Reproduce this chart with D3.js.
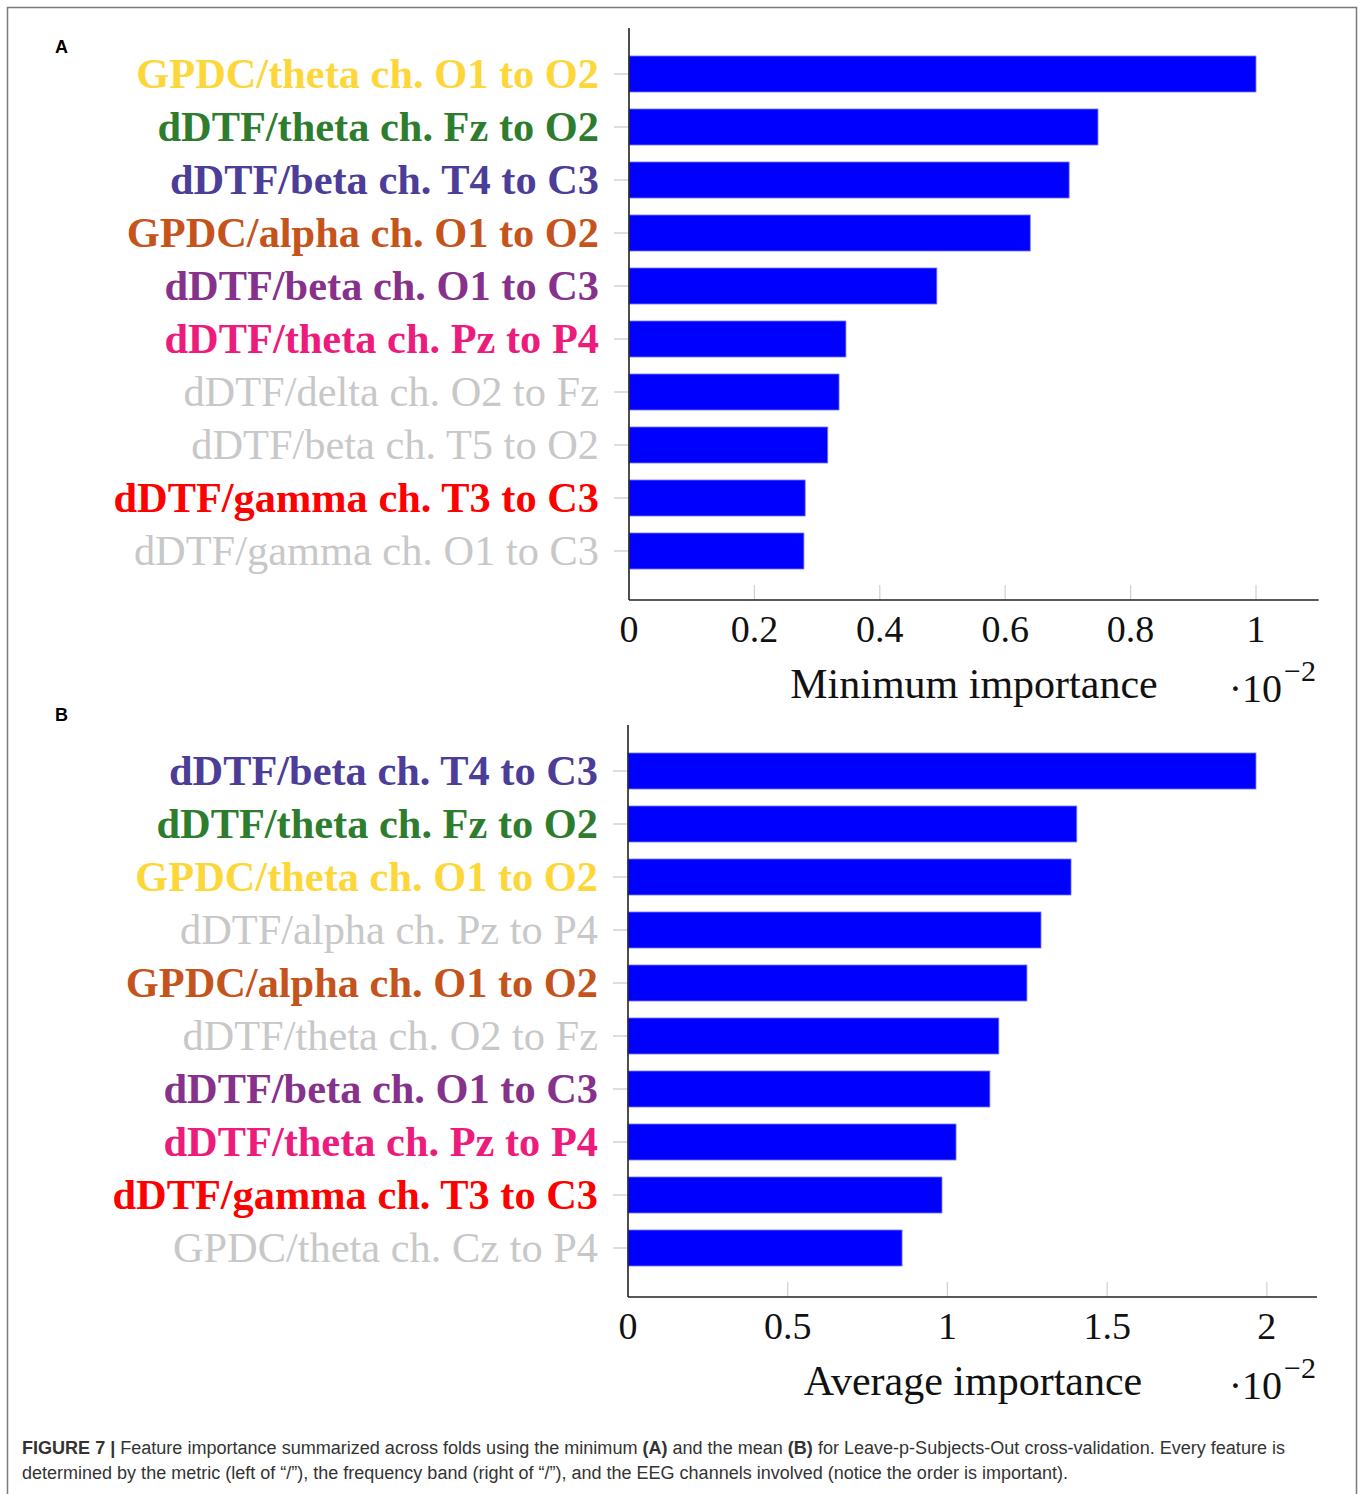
<!DOCTYPE html>
<html>
<head>
<meta charset="utf-8">
<script src="https://cdn.jsdelivr.net/npm/d3@7"></script>
<style>
  html, body { margin: 0; padding: 0; background: #fff; }
  svg { display: block; }
</style>
</head>
<body>
<svg id="fig" width="1362" height="1494"></svg>
<script>
// Panel A: minimum importance across folds (x 10^-2)
const featuresA = [
  "GPDC/theta ch. O1 to O2",
  "dDTF/theta ch. Fz to O2",
  "dDTF/beta ch. T4 to C3",
  "GPDC/alpha ch. O1 to O2",
  "dDTF/beta ch. O1 to C3",
  "dDTF/theta ch. Pz to P4",
  "dDTF/delta ch. O2 to Fz",
  "dDTF/beta ch. T5 to O2",
  "dDTF/gamma ch. T3 to C3",
  "dDTF/gamma ch. O1 to C3"
];
const valuesA = [1.0, 0.748, 0.702, 0.640, 0.491, 0.346, 0.335, 0.317, 0.281, 0.279];
const ticksA = [0, 0.2, 0.4, 0.6, 0.8, 1];

// Panel B: average importance across folds (x 10^-2)
const featuresB = [
  "dDTF/beta ch. T4 to C3",
  "dDTF/theta ch. Fz to O2",
  "GPDC/theta ch. O1 to O2",
  "dDTF/alpha ch. Pz to P4",
  "GPDC/alpha ch. O1 to O2",
  "dDTF/theta ch. O2 to Fz",
  "dDTF/beta ch. O1 to C3",
  "dDTF/theta ch. Pz to P4",
  "dDTF/gamma ch. T3 to C3",
  "GPDC/theta ch. Cz to P4"
];
const valuesB = [1.966, 1.405, 1.387, 1.293, 1.249, 1.161, 1.133, 1.027, 0.983, 0.858];
const ticksB = [0, 0.5, 1, 1.5, 2];

// Features that recur across both rankings get their own colour; the rest are grey
const featureColors = {
  "GPDC/theta ch. O1 to O2": "#fdd73a",
  "dDTF/theta ch. Fz to O2": "#2e7d2e",
  "dDTF/beta ch. T4 to C3": "#4b3d98",
  "GPDC/alpha ch. O1 to O2": "#c4541c",
  "dDTF/beta ch. O1 to C3": "#86318c",
  "dDTF/theta ch. Pz to P4": "#ec1b7c",
  "dDTF/gamma ch. T3 to C3": "#ff0000"
};
const otherColor = "#c8c8c8";

const svg = d3.select("#fig");
const serif = "'Liberation Serif', 'DejaVu Serif', serif";
const sans = "'Liberation Sans', Arial, sans-serif";

// outer frame
svg.append("path")
  .attr("d", "M7.5,1494 V7.5 H1356.5 V1494")
  .attr("fill", "none").attr("stroke", "#7a7a7a").attr("stroke-width", 1.5);

function drawPanel(cfg) {
  const g = svg.append("g");
  const x = d3.scaleLinear().domain([0, cfg.xmax]).range([cfg.x0, cfg.x1]);
  const y = d3.scalePoint().domain(cfg.features).range([cfg.yFirst, cfg.yLast]);
  const barH = y.step() * 0.68;

  // panel letter
  g.append("text").attr("x", 55).attr("y", cfg.letterY)
    .attr("font-family", sans).attr("font-weight", "bold").attr("font-size", 18)
    .attr("fill", "#000").text(cfg.letter);

  // y tick marks (outside, grey)
  g.selectAll("line.ytick").data(cfg.features).join("line")
    .attr("x1", cfg.x0 - 15).attr("x2", cfg.x0)
    .attr("y1", d => y(d)).attr("y2", d => y(d))
    .attr("stroke", "#c8c8c8").attr("stroke-width", 1.2);

  // x tick marks (inside, grey)
  g.selectAll("line.xtick").data(cfg.ticks.filter(t => t > 0)).join("line")
    .attr("x1", d => x(d)).attr("x2", d => x(d))
    .attr("y1", cfg.axisY).attr("y2", cfg.axisY - 15)
    .attr("stroke", "#d0d0d0").attr("stroke-width", 1.2);

  // bars
  g.selectAll("rect.bar").data(cfg.features).join("rect")
    .attr("x", x(0))
    .attr("y", d => y(d) - barH / 2)
    .attr("width", (d, i) => x(cfg.values[i]) - x(0))
    .attr("height", barH)
    .attr("fill", "#0000ff")
    .attr("stroke", "#7f7fff").attr("stroke-width", 0.8);

  // feature labels
  g.selectAll("text.feat").data(cfg.features).join("text")
    .attr("x", cfg.x0 - 30)
    .attr("y", d => y(d) + 14)
    .attr("text-anchor", "end")
    .attr("font-family", serif)
    .attr("font-size", 42.4)
    .attr("font-weight", d => featureColors[d] ? "bold" : "normal")
    .attr("fill", d => featureColors[d] || otherColor)
    .text(d => d);

  // axis lines
  g.append("line").attr("x1", cfg.x0).attr("x2", cfg.x0)
    .attr("y1", cfg.axisTop).attr("y2", cfg.axisY)
    .attr("stroke", "#222").attr("stroke-width", 1.6);
  g.append("line").attr("x1", cfg.x0).attr("x2", cfg.x1)
    .attr("y1", cfg.axisY).attr("y2", cfg.axisY)
    .attr("stroke", "#222").attr("stroke-width", 1.6);

  // x tick labels
  g.selectAll("text.xlab").data(cfg.ticks).join("text")
    .attr("x", d => x(d)).attr("y", cfg.axisY + 42)
    .attr("text-anchor", "middle")
    .attr("font-family", serif).attr("font-size", 38)
    .attr("fill", "#111")
    .text(d => d3.format("~g")(d));

  // axis title
  g.append("text").attr("x", cfg.titleX).attr("y", cfg.axisY + 98)
    .attr("text-anchor", "middle")
    .attr("font-family", serif).attr("font-size", 42)
    .attr("fill", "#111").text(cfg.title);

  // scale factor
  const sf = g.append("text").attr("x", 1316).attr("y", cfg.axisY + 102)
    .attr("text-anchor", "end")
    .attr("font-family", serif).attr("fill", "#111");
  sf.append("tspan").attr("font-size", 40).text("·10");
  sf.append("tspan").attr("font-size", 30).attr("dx", 2).attr("dy", -21).text("−2");
}

drawPanel({
  letter: "A", letterY: 53,
  features: featuresA, values: valuesA, ticks: ticksA,
  xmax: 1.1, x0: 629, x1: 1318.7,
  yFirst: 74, yLast: 551, axisTop: 28, axisY: 600,
  title: "Minimum importance", titleX: 974
});

drawPanel({
  letter: "B", letterY: 721,
  features: featuresB, values: valuesB, ticks: ticksB,
  xmax: 2.157, x0: 628, x1: 1317,
  yFirst: 771, yLast: 1248, axisTop: 725, axisY: 1297,
  title: "Average importance", titleX: 973
});

// caption
const cap = svg.append("g").attr("font-family", sans).attr("font-size", 18).attr("fill", "#333");
const l1 = cap.append("text").attr("x", 22).attr("y", 1454)
  .attr("textLength", 1263).attr("lengthAdjust", "spacingAndGlyphs");
l1.append("tspan").attr("font-weight", "bold").text("FIGURE 7 | ");
l1.append("tspan").text("Feature importance summarized across folds using the minimum ");
l1.append("tspan").attr("font-weight", "bold").text("(A)");
l1.append("tspan").text(" and the mean ");
l1.append("tspan").attr("font-weight", "bold").text("(B)");
l1.append("tspan").text(" for Leave-p-Subjects-Out cross-validation. Every feature is");
cap.append("text").attr("x", 22).attr("y", 1479)
  .attr("textLength", 1046).attr("lengthAdjust", "spacingAndGlyphs")
  .text("determined by the metric (left of \u201c/\u201d), the frequency band (right of \u201c/\u201d), and the EEG channels involved (notice the order is important).");
</script>
</body>
</html>
